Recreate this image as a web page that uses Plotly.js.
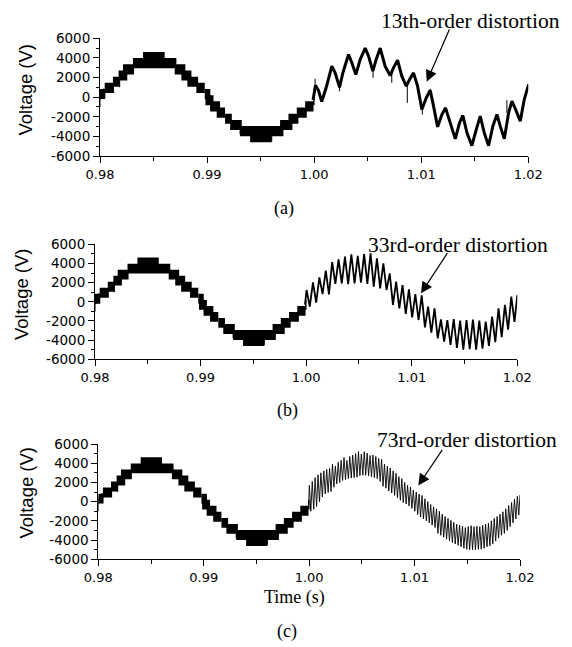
<!DOCTYPE html>
<html><head><meta charset="utf-8">
<script src="https://cdn.plot.ly/plotly-3.0.1.min.js"></script>
<style>html,body{margin:0;padding:0;background:#fff}#chart{width:572px;height:647px}</style>
</head><body><div id="chart"></div>
<script>
// ---------------- data ----------------
const xTickVals = [0.98, 0.99, 1.00, 1.01, 1.02];
const xTickText = ['0.98', '0.99', '1.00', '1.01', '1.02'];
const xMinorVals = [0.985, 0.995, 1.005, 1.015];
const yTickVals = [6000, 4000, 2000, 0, -2000, -4000, -6000];
const yTickText = ['6000', '4000', '2000', '0', '-2000', '-4000', '-6000'];
const yMinorVals = [5000, 3000, 1000, -1000, -3000, -5000];

// multilevel staircase (0.98 - 1.00 s), same in the three panels
const levelStep = 630; // V between two converter levels
const stairStart = [0.98000, 0.98044, 0.98121, 0.98174, 0.98215, 0.98308, 0.98402, 0.98698, 0.98760, 0.98816, 0.98900, 0.98978,
                    0.98985, 0.99028, 0.99090, 0.99168, 0.99215, 0.99308, 0.99402, 0.99682, 0.99760, 0.99838, 0.99916, 0.99990];
const stairEnd   = [0.98050, 0.98131, 0.98184, 0.98255, 0.98318, 0.98713, 0.98604, 0.98797, 0.98854, 0.98916, 0.98978, 0.99030,
                    0.99060, 0.99121, 0.99168, 0.99231, 0.99324, 0.99713, 0.99604, 0.99797, 0.99853, 0.99931, 0.99994, 1.00004];
const stairBand  = [0, 1, 2, 3, 4, 5, 6, 4, 3, 2, 1, 0,
                    -1, -2, -3, -4, -5, -6, -7, -5, -4, -3, -2, -1];
// thin switching spikes on the staircase
const spikeT  = [0.98000, 0.98008, 0.98016, 0.98026, 0.98036, 0.98184, 0.98706, 0.98990, 0.99002, 0.99012, 0.99024, 0.99308, 0.99604, 0.99704];
const spikeLo = [-1000, -200, 0, -100, 200, 1000, 2480, -240, -570, -300, -600, -3810, -4490, -3700];
const spikeHi = [300, 600, 700, 800, 900, 1800, 3840, 780, 610, 500, 300, -2620, -3120, -2600];

// (a) 13th-order distortion (1.00 - 1.02 s)
const aT = [0.99990, 1.00012, 1.00040, 1.00071, 1.00112, 1.00165, 1.00196, 1.00237, 1.00268, 1.00321, 1.00352, 1.00389,
            1.00430, 1.00477, 1.00508, 1.00548, 1.00579, 1.00617, 1.00663, 1.00710, 1.00741, 1.00779, 1.00819, 1.00860,
            1.00891, 1.00928, 1.00966, 1.01006, 1.01047, 1.01084, 1.01115, 1.01153, 1.01193, 1.01227, 1.01271, 1.01318,
            1.01358, 1.01389, 1.01427, 1.01473, 1.01514, 1.01551, 1.01589, 1.01629, 1.01669, 1.01707, 1.01738, 1.01776,
            1.01816, 1.01847, 1.01888, 1.01925, 1.01962, 1.02003];
const aV = [-300, 1200, 700, -450, 950, 3160, 2480, 1000, 2480, 4350, 3500, 2300,
            3840, 5000, 4180, 2650, 3840, 5000, 3160, 2200, 2990, 3770, 2140, 1120,
            1800, 2480, 1120, -1260, -70, 710, -920, -3030, -1770, -1090, -2620, -4250,
            -2620, -1870, -3640, -4950, -3300, -1940, -3640, -4950, -2960, -1770, -2960, -4250,
            -1600, -410, -1430, -2450, -240, 1290];
const aSpikeT  = [1.00009, 1.00237, 1.00550, 1.00725, 1.00870, 1.01010, 1.01084, 1.01800];
const aSpikeLo = [700, 600, 1970, 1460, -580, -1770, 300, -1600];
const aSpikeHi = [1870, 1400, 3000, 2500, 1500, -800, 850, -300];

// (b) 33rd-order distortion: peak / trough of each ripple cycle
const bFirst = -300, bLast = 700;
const bT0 = 1.00004, bHalf = 0.000303; // sample spacing (half ripple period)
const bHi = [1230, 2030, 2550, 3250, 4150, 4430, 4710, 4960, 4800, 4990, 5060, 4540, 4020, 2970, 2100, 1750, 1300,
             810, 680, -510, -680, -1830, -1900, -1800, -1950, -1900, -1850, -1970, -2070, -1550, -680, -330, 540];
const bLo = [-510, -90, 810, 780, 1860, 1930, 1850, 1930, 2000, 1860, 1580, 1400, 1230, -330, -680, -1270, -1620,
             -1900, -2660, -3220, -3810, -4160, -4500, -4800, -5000, -4950, -5000, -4900, -4600, -4200, -3700, -2900, -2100];

// (c) 73rd-order distortion: peak / trough of each ripple cycle
const cFirst = -300, cLast = 700;
const cT0 = 1.00002, cHalf = 0.000137;
const cHi = [1700, 2100, 2500, 2800, 3000, 3200, 3350, 3450, 3900, 3700, 4100, 4300, 4600, 4300, 4700, 4850, 5000, 5200,
             4950, 5200, 5050, 4800, 4850, 4700, 4500, 4400, 3900, 3700, 3500, 3200, 2950, 2600, 2400, 2000, 1700, 1500,
             1200, 1000, 800, 650, 300, 0, -300, -550, -750, -1000, -1300, -1550, -1750, -1950, -2150, -2350, -2450,
             -2550, -2700, -2600, -2500, -2600, -2550, -2600, -2450, -2350, -2250, -2000, -1750, -1550, -1300, -1050,
             -750, -400, -100, 250, 550];
const cLo = [-1000, -800, -500, 0, 500, 800, 950, 1050, 1500, 1850, 2000, 2200, 2300, 2400, 2450, 2500, 2550, 2700,
             2750, 2750, 2700, 2600, 2500, 2400, 2100, 1600, 1400, 1100, 900, 650, 400, 150, -100, -250, -450, -700,
             -1000, -1350, -1600, -1800, -2000, -2200, -2450, -2700, -3300, -3500, -3700, -3900, -4100, -4250, -4400,
             -4550, -4700, -4850, -4950, -5000, -5000, -5000, -4950, -4950, -4850, -4700, -4600, -4400, -4100, -3800,
             -3500, -3300, -3000, -2600, -2200, -1800, -1400];

// ---------------- build traces ----------------
const PEN = 200; // half pen thickness of the scope trace, in V, added around each PWM block
function stairTrace(xa, ya) {
  return {
    type: 'bar', xaxis: xa, yaxis: ya,
    x: stairStart.map((s, i) => (s + stairEnd[i]) / 2),
    width: stairStart.map((s, i) => stairEnd[i] - s),
    base: stairBand.map(k => k * levelStep - PEN),
    y: stairBand.map(() => levelStep + 2 * PEN),
    marker: {color: '#000', line: {width: 0}},
    hoverinfo: 'skip', showlegend: false
  };
}
function spikeTrace(xa, ya, T, lo, hi) {
  const x = [], y = [];
  T.forEach((t, i) => { x.push(t, t, null); y.push(lo[i], hi[i], null); });
  return {type: 'scatter', mode: 'lines', xaxis: xa, yaxis: ya, x, y,
          line: {color: '#000', width: 1}, hoverinfo: 'skip', showlegend: false};
}
function rippleTrace(xa, ya, first, last, t0, half, hi, lo, w) {
  const x = [t0 - half * 0.5], y = [first];
  hi.forEach((h, i) => {
    x.push(t0 + 2 * i * half); y.push(h);
    x.push(t0 + (2 * i + 1) * half); y.push(lo[i]);
  });
  x.push(1.02); y.push(last);
  return {type: 'scatter', mode: 'lines', xaxis: xa, yaxis: ya, x, y,
          line: {color: '#000', width: w}, hoverinfo: 'skip', showlegend: false};
}

const data = [
  stairTrace('x', 'y'), spikeTrace('x', 'y', spikeT, spikeLo, spikeHi),
  {type: 'scatter', mode: 'lines', xaxis: 'x', yaxis: 'y', x: aT, y: aV,
   line: {color: '#000', width: 3}, hoverinfo: 'skip', showlegend: false},
  spikeTrace('x', 'y', aSpikeT, aSpikeLo, aSpikeHi),

  stairTrace('x2', 'y2'), spikeTrace('x2', 'y2', spikeT, spikeLo, spikeHi),
  rippleTrace('x2', 'y2', bFirst, bLast, bT0, bHalf, bHi, bLo, 1.8),

  stairTrace('x3', 'y3'), spikeTrace('x3', 'y3', spikeT, spikeLo, spikeHi),
  rippleTrace('x3', 'y3', cFirst, cLast, cT0, cHalf, cHi, cLo, 0.9)
];

// ---------------- layout ----------------
const W = 572, H = 647;
const px = v => v / W, py = v => 1 - v / H;
const xTickFont = {family: 'DejaVu Sans, Arial, sans-serif', size: 13, color: '#000'};
const yTickFont = {family: 'DejaVu Sans, Arial, sans-serif', size: 13.5, color: '#000'};
function xAxis(dom, anchor) {
  return {domain: dom, anchor: anchor, range: [0.98, 1.02], showgrid: false, zeroline: false,
          showline: true, linecolor: '#000', linewidth: 1, ticks: 'outside', ticklen: 6, tickwidth: 1, tickcolor: '#000',
          tickmode: 'array', tickvals: xTickVals, ticktext: xTickText, tickfont: xTickFont,
          minor: {tickmode: 'array', tickvals: xMinorVals, ticks: 'outside', ticklen: 4, tickwidth: 1, tickcolor: '#000'},
          fixedrange: true};
}
function yAxis(dom, anchor) {
  return {domain: dom, anchor: anchor, range: [-6000, 6000], showgrid: false, zeroline: false,
          showline: true, linecolor: '#000', linewidth: 1, ticks: 'outside', ticklen: 6, tickwidth: 1, tickcolor: '#000',
          tickmode: 'array', tickvals: yTickVals, ticktext: yTickText, tickfont: yTickFont,
          minor: {tickmode: 'array', tickvals: yMinorVals, ticks: 'outside', ticklen: 3.5, tickwidth: 1, tickcolor: '#000'},
          fixedrange: true};
}
const sans = {family: 'Liberation Sans, Arial, sans-serif', size: 18.5, color: '#000'};
const serif = {family: 'Liberation Serif, Times New Roman, serif', size: 21.5, color: '#000'};
const serifL = {family: 'Liberation Serif, Times New Roman, serif', size: 18, color: '#000'};
function txt(x, y, text, font, extra) {
  return Object.assign({xref: 'paper', yref: 'paper', x: px(x), y: py(y), text: text, font: font,
                        showarrow: false, xanchor: 'center', yanchor: 'middle'}, extra || {});
}
function arrow(tipX, tipY, tailX, tailY) {
  return {xref: 'paper', yref: 'paper', x: px(tipX), y: py(tipY), ax: tailX - tipX, ay: tailY - tipY,
          axref: 'pixel', ayref: 'pixel', text: '', showarrow: true, arrowhead: 2, arrowsize: 1.9,
          arrowwidth: 1.2, arrowcolor: '#000', standoff: 0};
}

const layout = {
  width: W, height: H, margin: {l: 0, r: 0, t: 0, b: 0},
  paper_bgcolor: '#fff', plot_bgcolor: '#fff', showlegend: false, barmode: 'overlay',
  xaxis: xAxis([px(100), px(528.3)], 'y'),
  yaxis: yAxis([py(156), py(38.3)], 'x'),
  xaxis2: xAxis([px(95), px(517.3)], 'y2'),
  yaxis2: yAxis([py(359.3), py(244.3)], 'x2'),
  xaxis3: xAxis([px(98.3), px(520)], 'y3'),
  yaxis3: yAxis([py(559.3), py(444)], 'x3'),
  annotations: [
    txt(25.5, 90, 'Voltage (V)', sans, {textangle: -90}),
    txt(21, 294, 'Voltage (V)', sans, {textangle: -90}),
    txt(25.5, 493, 'Voltage (V)', sans, {textangle: -90}),
    txt(294, 597, 'Time (s)', serifL),
    txt(284, 208, '(a)', serifL),
    txt(287, 410, '(b)', serifL),
    txt(287, 631, '(c)', serifL),
    txt(470, 21, '13th-order distortion', serif),
    txt(458, 245, '33rd-order distortion', serif),
    txt(467, 440, '73rd-order distortion', serif),
    arrow(426.7, 81.7, 450, 28),
    arrow(421, 293.3, 448.3, 251.7),
    arrow(418.3, 485.5, 443.3, 448.3)
  ]
};

Plotly.newPlot('chart', data, layout, {displayModeBar: false, staticPlot: true});
</script>
</body></html>
